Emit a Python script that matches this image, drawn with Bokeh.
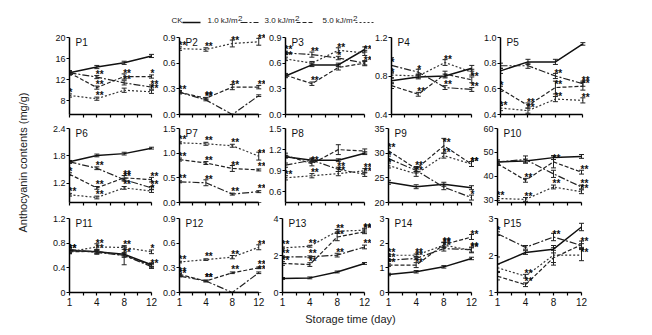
import math
from bokeh.plotting import figure
from bokeh.layouts import column, row
from bokeh.models import Range1d, FixedTicker, ColumnDataSource, Label, Whisker, TeeHead
from bokeh.core.properties import value
from bokeh.embed import file_html
from bokeh.resources import INLINE

FONT = "Liberation Sans"
DAYS = ["1", "4", "8", "12"]
PANELS = ["P%d" % i for i in range(1, 16)]
SERIES_NAMES = ["CK", "1.0 kJ/m", "3.0 kJ/m", "5.0 kJ/m"]

CK = [
    [13.3, 14.4, 15.2, 16.5], [0, 0, 0, 0], [0.45, 0.58, 0.58, 0.76], [0.75, 0.79, 0.80, 0.88], [0.74, 0.81, 0.81, 0.95],
    [1.67, 1.81, 1.85, 1.97], [0, 0, 0, 0], [1.10, 1.05, 1.05, 1.15], [24.1, 23.2, 23.7, 23.0], [46.0, 46.4, 47.8, 48.3],
    [0.68, 0.66, 0.62, 0.45], [0, 0, 0, 0], [0.76, 0.79, 1.11, 1.57], [0.73, 0.84, 1.04, 1.38], [1.76, 2.08, 2.17, 2.77],
]
UV10 = [
    [13.3, 12.5, 11.4, 10.6], [0.26, 0.17, 0.0, 0.22], [0.72, 0.70, 0.66, 0.60], [0.91, 0.84, 0.68, 0.66], [0.78, 0.78, 0.70, 0.64],
    [1.67, 1.53, 1.28, 1.10], [0.42, 0.40, 0.17, 0.22], [0.98, 1.05, 0.92, 0.85], [28.9, 26.5, 23.1, 21.0], [46.0, 47.0, 41.0, 35.5],
    [0.70, 0.65, 0.60, 0.42], [0.20, 0.14, 0.0, 0.24], [1.93, 1.93, 2.02, 2.46], [1.31, 1.38, 1.78, 1.74], [2.59, 2.22, 2.50, 2.27],
]
UV30 = [
    [13.3, 10.5, 12.6, 12.6], [0.26, 0.19, 0.32, 0.32], [0.46, 0.36, 0.55, 0.60], [0.70, 0.61, 0.82, 0.76], [0.60, 0.47, 0.61, 0.62],
    [1.40, 1.10, 1.32, 1.28], [0.87, 0.80, 0.69, 0.66], [1.12, 1.00, 1.20, 1.18], [30.5, 26.8, 31.5, 27.8], [45.3, 38.3, 46.0, 41.7],
    [0.66, 0.67, 0.60, 0.44], [0.22, 0.14, 0.24, 0.30], [1.57, 1.51, 3.00, 3.28], [1.11, 1.11, 1.94, 2.25], [1.44, 1.21, 1.94, 2.29],
]
UV50 = [
    [9.0, 8.4, 10.0, 9.7], [0.77, 0.76, 0.83, 0.85], [0.65, 0.60, 0.75, 0.72], [0.81, 0.80, 0.94, 0.84], [0.45, 0.43, 0.52, 0.51],
    [0.95, 0.89, 1.10, 1.03], [1.21, 1.19, 1.15, 0.94], [0.80, 0.83, 0.86, 0.90], [27.5, 25.8, 29.5, 27.8], [30.7, 30.3, 35.5, 33.5],
    [0.66, 0.74, 0.73, 0.66], [0.37, 0.40, 0.43, 0.55], [2.41, 2.50, 3.31, 3.37], [1.51, 1.51, 1.92, 1.71], [1.67, 1.44, 2.01, 2.01],
]
SIG_CK = [["", "", "", ""]] * 15
SIG_UV10 = [
    ["", "**", "**", "**"], ["", "**", "", ""], ["**", "**", "*", ""], ["*", "*", "**", "**"], ["", "", "**", "**"],
    ["", "**", "**", "**"], ["**", "**", "**", "**"], ["", "", "**", "**"], ["*", "", "", "*"], ["", "", "", "**"],
    ["", "", "**", "**"], ["**", "**", "", "**"], ["**", "**", "**", "**"], ["**", "**", "**", "**"], ["*", "", "**", ""],
]
SIG_UV30 = [
    ["", "**", "**", "*"], ["**", "**", "**", "**"], ["", "**", "", "**"], ["", "**", "", "**"], ["*", "**", "**", "**"],
    ["*", "**", "**", "**"], ["**", "**", "**", "**"], ["", "**", "", ""], ["**", "**", "**", "**"], ["", "**", "**", "**"],
    ["**", "**", "", ""], ["**", "**", "**", "**"], ["**", "**", "**", "**"], ["**", "**", "**", "**"], ["", "**", "", "**"],
]
SIG_UV50 = [
    ["*", "**", "", "**"], ["**", "**", "**", "**"], ["**", "", "**", "**"], ["*", "", "**", ""], ["**", "**", "**", "**"],
    ["**", "**", "**", "*"], ["**", "**", "**", "**"], ["**", "**", "**", "**"], ["*", "**", "**", "**"], ["**", "**", "**", "**"],
    ["**", "**", "**", "*"], ["**", "**", "**", "**"], ["**", "**", "**", "**"], ["**", "**", "**", "**"], ["", "**", "", "**"],
]
ERR_CK = [
    [0.3, 0.3, 0.3, 0.3], [0, 0, 0, 0], [0.02, 0.02, 0.02, 0.03], [0.03, 0.02, 0.02, 0.03], [0.02, 0.02, 0.02, 0.01],
    [0.03, 0.03, 0.03, 0.02], [0, 0, 0, 0], [0.02, 0.02, 0.02, 0.02], [0.4, 0.4, 0.4, 0.4], [0.8, 0.8, 0.8, 0.8],
    [0.03, 0.03, 0.03, 0.03], [0, 0, 0, 0], [0.05, 0.05, 0.05, 0.05], [0.05, 0.05, 0.05, 0.05], [0.2, 0.05, 0.1, 0.1],
]
ERR_UV10 = [
    [0.4, 0.3, 0.4, 0.4], [0.01, 0.01, 0.0, 0.01], [0.02, 0.03, 0.02, 0.02], [0.08, 0.03, 0.02, 0.02], [0.02, 0.02, 0.02, 0.02],
    [0.03, 0.03, 0.03, 0.03], [0.02, 0.06, 0.02, 0.02], [0.03, 0.03, 0.03, 0.03], [0.5, 0.5, 0.5, 0.5], [0.8, 1.5, 1.5, 0.8],
    [0.03, 0.03, 0.03, 0.03], [0.01, 0.01, 0.0, 0.01], [0.05, 0.05, 0.1, 0.1], [0.05, 0.05, 0.1, 0.1], [0.05, 0.05, 0.1, 0.05],
]
ERR_UV30 = [
    [0.4, 0.3, 0.5, 0.3], [0.02, 0.01, 0.03, 0.02], [0.02, 0.02, 0.03, 0.03], [0.03, 0.02, 0.03, 0.03], [0.02, 0.02, 0.05, 0.03],
    [0.03, 0.03, 0.05, 0.05], [0.03, 0.03, 0.06, 0.02], [0.03, 0.03, 0.07, 0.03], [0.5, 0.5, 1.5, 0.5], [0.8, 0.8, 2.5, 0.8],
    [0.03, 0.03, 0.15, 0.03], [0.01, 0.01, 0.01, 0.01], [0.1, 0.1, 0.2, 0.1], [0.05, 0.1, 0.1, 0.1], [0.1, 0.05, 0.2, 0.1],
]
ERR_UV50 = [
    [0.3, 0.3, 0.4, 0.3], [0.02, 0.02, 0.04, 0.04], [0.02, 0.02, 0.03, 0.03], [0.03, 0.02, 0.03, 0.03], [0.02, 0.02, 0.02, 0.02],
    [0.03, 0.03, 0.03, 0.03], [0.02, 0.03, 0.03, 0.08], [0.03, 0.03, 0.03, 0.03], [0.5, 0.5, 0.5, 0.5], [0.8, 0.8, 0.8, 0.8],
    [0.03, 0.05, 0.03, 0.03], [0.01, 0.01, 0.02, 0.03], [0.05, 0.05, 0.1, 0.1], [0.05, 0.05, 0.1, 0.1], [0.1, 0.05, 0.2, 0.15],
]
Y_LOW = [5.4, 0, 0, 0.4, 0.4, 0.78, 0, 0.45, 20, 29, 0, 0, 0, 0, 1]
Y_TOP = [20, 0.9, 0.9, 1.2, 1.0, 2.4, 1.5, 1.5, 35, 60, 1.2, 0.9, 4, 3, 3]
Y_TICKS = [
    [8, 12, 16, 20], [0, 0.3, 0.6, 0.9], [0, 0.3, 0.6, 0.9], [0.4, 0.8, 1.2], [0.4, 0.6, 0.8, 1.0],
    [1.2, 1.8, 2.4], [0, 0.5, 1.0, 1.5], [0.6, 0.9, 1.2, 1.5], [20, 25, 30, 35], [30, 40, 50, 60],
    [0, 0.4, 0.8, 1.2], [0, 0.3, 0.6, 0.9], [0, 2, 4], [0, 1, 2, 3], [1, 2, 3],
]
Y_TICK_LABELS = [
    ["8", "12", "16", "20"], ["0.0", "0.3", "0.6", "0.9"], ["0.0", "0.3", "0.6", "0.9"], ["0.4", "0.8", "1.2"], ["0.4", "0.6", "0.8", "1.0"],
    ["1.2", "1.8", "2.4"], ["0.0", "0.5", "1.0", "1.5"], ["0.6", "0.9", "1.2", "1.5"], ["20", "25", "30", "35"], ["30", "40", "50", "60"],
    ["0", "0.4", "0.8", "1.2"], ["0.0", "0.3", "0.6", "0.9"], ["0", "2", "4"], ["0", "1", "2", "3"], ["1", "2", "3"],
]

STYLES = [
    dict(line_dash="solid", line_width=1.5, line_color="#111111"),
    dict(line_dash="7 2 2 2", line_width=1.2, line_color="#222222"),
    dict(line_dash="4 2", line_width=1.2, line_color="#222222"),
    dict(line_dash="2 2", line_width=1.2, line_color="#333333"),
]

# layout geometry (pixels)
COL_AXIS_START = [69, 176, 282, 388, 497]
COL_FIG_START = [49, 159, 265, 371, 480, 652]
COL_AXIS_LEN = [82, 82, 82, 83, 84]
ROW_FIG_H = [91, 91, 97]
ROW_AXIS_TOP = [6, 6, 5]   # offset of axis top inside figure
ROW_AXIS_H = [77, 74, 74]
ROW_BB = [8, 11, 18]
PAD_TOP = 4


def make_panel(i, r, c):
    bl = COL_AXIS_START[c] - COL_FIG_START[c]
    w = COL_FIG_START[c + 1] - COL_FIG_START[c]
    frame_w = w - bl
    x_end = 3.0 * frame_w / COL_AXIS_LEN[c]
    axis_h = ROW_AXIS_H[r]
    lo, top = Y_LOW[i], Y_TOP[i]
    pxu = axis_h / (top - lo)
    y_end = top + PAD_TOP / pxu
    bt = ROW_AXIS_TOP[r] - PAD_TOP
    bb = ROW_BB[r]
    h = ROW_FIG_H[r]
    p = figure(width=w, height=h, x_range=Range1d(0, x_end), y_range=Range1d(lo, y_end),
               output_backend="svg", toolbar_location=None, title=None,
               min_border_left=bl, min_border_right=0, min_border_top=bt, min_border_bottom=bb)
    p.outline_line_color = None
    p.xgrid.visible = False
    p.ygrid.visible = False
    p.background_fill_color = None
    p.border_fill_color = None

    xa = p.xaxis[0]
    xa.ticker = FixedTicker(ticks=[0, 1, 2, 3], minor_ticks=[0.5, 1.5, 2.5])
    xa.bounds = (0, 3)
    xa.axis_line_width = 1.5
    xa.major_tick_in = 0
    xa.major_tick_out = 3
    xa.minor_tick_in = 0
    xa.minor_tick_out = 3
    xa.major_tick_line_width = 1.2
    xa.minor_tick_line_width = 1.2
    xa.major_label_overrides = {j: DAYS[j] for j in range(4)}
    xa.major_label_text_font = FONT
    xa.major_label_standoff = 2
    if r == 2:
        xa.major_label_text_font_size = "10px"
        xa.major_label_text_color = "#111111"
    else:
        xa.major_label_text_font_size = "0px"
        xa.major_label_text_color = None

    ya = p.yaxis[0]
    ya.ticker = FixedTicker(ticks=Y_TICKS[i], minor_ticks=[])
    ya.bounds = (lo, top)
    ya.axis_line_width = 1.5
    ya.major_tick_in = 0
    ya.major_tick_out = 3
    ya.major_tick_line_width = 1.2
    ya.major_label_overrides = {t: s for t, s in zip(Y_TICKS[i], Y_TICK_LABELS[i])}
    ya.major_label_text_font = FONT
    ya.major_label_text_font_size = "9px"
    ya.major_label_text_color = "#111111"
    ya.major_label_standoff = 1

    xs = [0, 1, 2, 3]
    for vals, errs, sigs, st in zip([CK[i], UV10[i], UV30[i], UV50[i]],
                                    [ERR_CK[i], ERR_UV10[i], ERR_UV30[i], ERR_UV50[i]],
                                    [SIG_CK[i], SIG_UV10[i], SIG_UV30[i], SIG_UV50[i]],
                                    STYLES):
        src = ColumnDataSource(dict(x=xs, y=vals,
                                    upper=[v + e for v, e in zip(vals, errs)],
                                    lower=[v - e for v, e in zip(vals, errs)]))
        p.line("x", "y", source=src, **st)
        wk = Whisker(source=src, base="x", upper="upper", lower="lower",
                     line_color="#222222", line_width=1,
                     upper_head=TeeHead(size=5, line_color="#222222", line_width=1),
                     lower_head=TeeHead(size=5, line_color="#222222", line_width=1))
        p.add_layout(wk)
        keep = [j for j in range(4) if sigs[j]]
        if keep:
            ssrc = ColumnDataSource(dict(x=[xs[j] for j in keep], y=[vals[j] for j in keep],
                                         sig=[sigs[j] for j in keep]))
            p.text("x", "y", text="sig", source=ssrc, text_font=value(FONT), text_font_size="10px",
                   text_font_style="bold", text_color="#111111", text_align="left", text_baseline="middle",
                   x_offset=-1, y_offset=-3)

    lab = Label(x=6, y=axis_h - 5, x_units="screen", y_units="screen", text=PANELS[i],
                text_font=FONT, text_font_size="10px", text_baseline="middle", text_color="#111111")
    p.add_layout(lab)
    return p


rows = []
for r in range(3):
    figs = [make_panel(r * 5 + c, r, c) for c in range(5)]
    rows.append(row(*figs, spacing=0))
grid = column(*rows, spacing=0)

# y-axis title
ylab_h = sum(ROW_FIG_H)
ylab = figure(width=COL_FIG_START[0], height=ylab_h, x_range=Range1d(0, COL_FIG_START[0]), y_range=Range1d(0, ylab_h),
              output_backend="svg", toolbar_location=None, title=None, min_border=0)
ylab.axis.visible = False
ylab.grid.visible = False
ylab.outline_line_color = None
ylab.text(x=[22], y=[ylab_h - 131], text=["Anthocyanin contents (mg/g)"], angle=math.pi / 2,
          text_font=value(FONT), text_font_size="11px", text_align="center", text_baseline="middle", text_color="#222222")

# legend
LEG_H = 31
leg = figure(width=652, height=LEG_H, x_range=Range1d(0, 652), y_range=Range1d(0, LEG_H),
             output_backend="svg", toolbar_location=None, title=None, min_border=0)
leg.axis.visible = False
leg.grid.visible = False
leg.outline_line_color = None
leg_text_x = [171, 207, 264, 322]
leg_line_x = [(182, 200), (240, 258), (296, 314), (355, 373)]
for k in range(4):
    leg.text(x=[leg_text_x[k]], y=[LEG_H - 20], text=[SERIES_NAMES[k]], text_font=value(FONT), text_font_size="8px",
             text_align="left", text_baseline="middle", text_color="#222222")
    if k > 0:
        leg.text(x=[leg_text_x[k] + 30.5], y=[LEG_H - 17.5], text=["2"], text_font=value(FONT), text_font_size="8px",
                 text_align="left", text_baseline="middle", text_color="#222222")
    x0, x1 = leg_line_x[k]
    leg.line(x=[x0, x1], y=[LEG_H - 22, LEG_H - 22], **STYLES[k])

# x-axis title
XL_H = 335 - LEG_H - ylab_h
xl = figure(width=652, height=XL_H, x_range=Range1d(0, 652), y_range=Range1d(0, XL_H),
            output_backend="svg", toolbar_location=None, title=None, min_border=0)
xl.axis.visible = False
xl.grid.visible = False
xl.outline_line_color = None
xl.text(x=[350], y=[XL_H - 8], text=["Storage time (day)"], text_font=value(FONT), text_font_size="11px",
        text_align="center", text_baseline="middle", text_color="#222222")

page = column(leg, row(ylab, grid, spacing=0), xl, spacing=0)
open("out.html", "w").write(file_html(page, INLINE))
